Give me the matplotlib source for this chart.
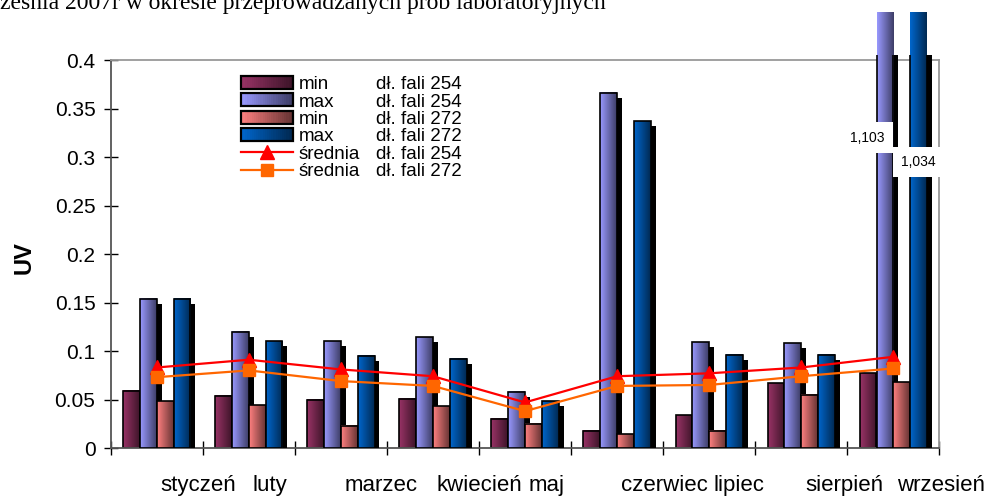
import numpy as np
import matplotlib
matplotlib.use("Agg")
from matplotlib import pyplot as plt
from matplotlib.patches import Rectangle, Patch
from matplotlib.lines import Line2D
from matplotlib.legend_handler import HandlerBase
from matplotlib.colors import to_rgb
import matplotlib.transforms as mtransforms

# data
months = ["styczeń", "luty", "marzec", "kwiecień", "maj",
          "czerwiec", "lipiec", "sierpień", "wrzesień"]
min_254 = [0.059, 0.054, 0.050, 0.051, 0.030, 0.018, 0.034, 0.067, 0.077]
max_254 = [0.154, 0.120, 0.110, 0.114, 0.058, 0.366, 0.109, 0.108, 1.103]
min_272 = [0.048, 0.044, 0.023, 0.043, 0.025, 0.014, 0.018, 0.055, 0.068]
max_272 = [0.154, 0.110, 0.095, 0.092, 0.048, 0.337, 0.096, 0.096, 1.034]
avg_254 = [0.083, 0.091, 0.081, 0.074, 0.047, 0.074, 0.077, 0.083, 0.094]
avg_272 = [0.073, 0.080, 0.069, 0.064, 0.038, 0.064, 0.065, 0.074, 0.082]
big_labels = ["1,103", "1,034"]

plt.rcParams['font.family'] = ['Liberation Sans', 'DejaVu Sans']

series = [
    (min_254, "#993366", "min", "dł. fali 254"),
    (max_254, "#9999FF", "max", "dł. fali 254"),
    (min_272, "#FF8080", "min", "dł. fali 272"),
    (max_272, "#0066CC", "max", "dł. fali 272"),
]


def gradient(base, n=64, dark=0.4):
    c = np.array(to_rgb(base))
    t = np.linspace(0, 1, n)[:, None]
    return (c * (1 - (1 - dark) * t))[None, :, :]


class GradHandler(HandlerBase):
    def __init__(self, base):
        super().__init__()
        self.base = base

    def create_artists(self, legend, orig, xd, yd, w, h, fontsize, trans):
        cols = gradient(self.base, 24)[0]
        arts = []
        n = len(cols)
        for i, c in enumerate(cols):
            arts.append(Rectangle((-xd + w * i / n, -yd), w / n * 1.05, h,
                                  facecolor=c, edgecolor='none', transform=trans))
        arts.append(Rectangle((-xd, -yd), w, h, fill=False, edgecolor='black',
                              lw=1.6, transform=trans))
        return arts


fig = plt.figure(figsize=(9.89, 4.98), dpi=100)
ax = fig.add_axes([0.1119, 0.1004, 0.8379, 0.7791])

x = np.arange(len(months))
offsets = [-0.275, -0.092, 0.092, 0.275]
width = 0.181
dx, dy = 0.054, 0.0052

clip_high = Rectangle((0, 0), 1, 1.124, transform=ax.transAxes)
clip_low = Rectangle((0, 0), 1, 1.013, transform=ax.transAxes)

for k, (vals, base, name, wave) in enumerate(series):
    xs = x + offsets[k]
    vals = np.array(vals)
    shadows = ax.bar(xs + dx, vals - dy, width, color='black', zorder=2 + 3 * k)
    for r in shadows:
        r.set_clip_path(clip_low)
    img = gradient(base)
    for xi, v in zip(xs, vals):
        im = ax.imshow(img, extent=(xi - width / 2, xi + width / 2, 0, v),
                       aspect='auto', interpolation='bilinear', zorder=2.1 + 3 * k)
        im.set_clip_path(clip_high)
    outlines = ax.bar(xs, vals, width, fill=False, edgecolor='black', lw=1.2,
                      zorder=2.2 + 3 * k)
    for r in outlines:
        r.set_clip_path(clip_low)

ax.plot(x, avg_254, color='#FF0000', lw=1.6, marker='^', ms=10, zorder=30)
ax.plot(x, avg_272, color='#FF6600', lw=1.6, marker='s', ms=9, zorder=31)

# labels for the bars that run off the scale
ax.text(x[-1] + offsets[1] - 0.19, 0.320, big_labels[0], fontsize=10,
        ha='center', va='center', zorder=40,
        bbox=dict(boxstyle='square,pad=0.6', fc='white', ec='none'))
ax.text(x[-1] + offsets[3], 0.295, big_labels[1], fontsize=10,
        ha='center', va='center', zorder=40,
        bbox=dict(boxstyle='square,pad=0.6', fc='white', ec='none'))

ax.set_xlim(-0.5, len(months) - 0.5)
ax.set_ylim(0, 0.4)
ax.set_yticks(np.arange(0, 0.401, 0.05))
ax.set_yticklabels(["0", "0.05", "0.1", "0.15", "0.2", "0.25", "0.3", "0.35", "0.4"])
ax.tick_params(axis='y', direction='inout', length=10, width=1, labelsize=15, pad=6)

ax.set_xticks(x)
ax.set_xticklabels(months, ha='left')
ax.set_xticks(np.arange(-0.5, len(months)), minor=True)
ax.tick_params(axis='x', which='major', length=0, labelsize=16, pad=19.5)
ax.tick_params(axis='x', which='minor', direction='inout', length=10, width=1)
shift = mtransforms.ScaledTranslation(4 / 100, 0, fig.dpi_scale_trans)
for lbl in ax.get_xticklabels():
    lbl.set_transform(lbl.get_transform() + shift)

for side in ['left', 'bottom']:
    ax.spines[side].set_color('#555555')
    ax.spines[side].set_linewidth(1.3)
for side in ['top', 'right']:
    ax.spines[side].set_color('#999999')
    ax.spines[side].set_linewidth(1.3)

ax.set_ylabel("UV", fontsize=17, fontweight='bold')
ax.yaxis.set_label_coords(-0.09, 0.49)

# legend: two columns, markers + name, then wavelength
handles, labels, hmap = [], [], {}
for vals, base, name, wave in series:
    p = Patch(facecolor=base)
    hmap[p] = GradHandler(base)
    handles.append(p)
    labels.append(name)
handles.append(Line2D([], [], color='#FF0000', lw=1.6, marker='^', ms=10))
labels.append("średnia")
handles.append(Line2D([], [], color='#FF6600', lw=1.6, marker='s', ms=9))
labels.append("średnia")
waves = [s[3] for s in series] + ["dł. fali 254", "dł. fali 272"]
for w in waves:
    handles.append(Line2D([], [], color='none'))
    labels.append(w)

ax.legend(handles, labels, handler_map=hmap, ncol=2, loc='upper left',
          bbox_to_anchor=(241 / 989, 1 - 76 / 498), bbox_transform=fig.transFigure,
          frameon=False, fontsize=13.5, handlelength=2.77, handleheight=0.69,
          handletextpad=0.3, labelspacing=0.02, columnspacing=-2.2,
          borderpad=0, borderaxespad=0)

# page text above the chart, cut off at the top as in the source
fig.text(0.0, 1 - 9.5 / 498, "ześnia 2007r w okresie przeprowadzanych prób laboratoryjnych",
         family='Liberation Serif', fontsize=17, va='baseline', ha='left')

fig.savefig("out.png", dpi=100)
